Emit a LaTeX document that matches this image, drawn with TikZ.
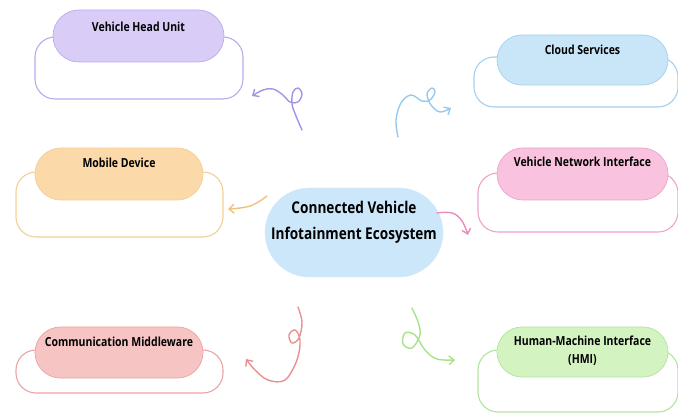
\documentclass[tikz,border=0pt]{standalone}
\usepackage{fontspec}
\setmainfont{Open Sans}[FakeStretch=0.84]
\usetikzlibrary{shapes.misc,arrows.meta}

% palette: fill / border / connector for each branch
\definecolor{purF}{HTML}{D9CDF8}\definecolor{purB}{HTML}{BBAAEE}\definecolor{purA}{HTML}{A594E6}
\definecolor{bluF}{HTML}{C9E5F8}\definecolor{bluB}{HTML}{A3D0EE}\definecolor{bluA}{HTML}{98CAEC}
\definecolor{oraF}{HTML}{FBD9A8}\definecolor{oraB}{HTML}{F3CF96}\definecolor{oraA}{HTML}{F0C27C}
\definecolor{pnkF}{HTML}{F9C3DF}\definecolor{pnkB}{HTML}{EFA3CB}\definecolor{pnkA}{HTML}{EA8DBE}
\definecolor{corF}{HTML}{F7C4C4}\definecolor{corB}{HTML}{EBA3A3}\definecolor{corA}{HTML}{EA8F8F}
\definecolor{grnF}{HTML}{D3F3C1}\definecolor{grnB}{HTML}{B3E49E}\definecolor{grnA}{HTML}{A8E28A}
\definecolor{cenF}{HTML}{CDE7FA}

\tikzset{
  pill/.style={rounded rectangle, draw=#1B, fill=#1F, line width=0.7pt, inner sep=0pt},
  frame/.style={rectangle, rounded corners=20pt, draw=#1B, line width=1.1pt, fill=white, inner sep=0pt},
  lbl/.style={font=\bfseries\fontsize{12.5}{15}\selectfont, text=black, inner sep=0pt, align=center},
  biglbl/.style={font=\bfseries\fontsize{16.2}{28}\selectfont, text=black, inner sep=0pt, align=center},
  curl/.style={draw=#1A, line width=1.4pt, line cap=round, line join=round,
    -{Straight Barb[length=5pt,width=9pt,line width=1.4pt]}},
}

\begin{document}
\begin{tikzpicture}[x=1pt,y=-1pt]
\useasboundingbox (0,0) rectangle (678,414);

% ---------- Vehicle Head Unit ----------
\node[frame=pur, minimum width=208, minimum height=62] (vhuF) at (139,68) {};
\node[pill=pur, minimum width=171, minimum height=52] (vhu) at (138.5,36) {};
\node[lbl] (vhuT) at (138.5,27) {Vehicle Head Unit};

% ---------- Cloud Services ----------
\node[frame=blu, minimum width=204, minimum height=50] (cloF) at (576,82) {};
\node[pill=blu, minimum width=171, minimum height=50] (clo) at (582.5,60) {};
\node[lbl] (cloT) at (582.5,50) {Cloud Services};

% ---------- Mobile Device ----------
\node[frame=ora, minimum width=207, minimum height=65] (mobF) at (119.5,204.5) {};
\node[pill=ora, minimum width=168, minimum height=52] (mob) at (119,174) {};
\node[lbl] (mobT) at (119,163) {Mobile Device};

% ---------- Vehicle Network Interface ----------
\node[frame=pnk, minimum width=200, minimum height=59] (vniF) at (578,202.5) {};
\node[pill=pnk, minimum width=171, minimum height=52] (vni) at (582.5,174) {};
\node[lbl] (vniT) at (582.5,162) {Vehicle Network Interface};

% ---------- Communication Middleware ----------
\node[frame=cor, minimum width=207, minimum height=43] (cmwF) at (119.5,371.5) {};
\node[pill=cor, minimum width=168, minimum height=51] (cmw) at (119,352.5) {};
\node[lbl] (cmwT) at (119,342) {Communication Middleware};

% ---------- Human-Machine Interface ----------
\node[frame=grn, minimum width=200, minimum height=62] (hmiF) at (578,381) {};
\node[pill=grn, minimum width=171, minimum height=50] (hmi) at (582.5,352) {};
\node[lbl] (hmiT1) at (582.5,341) {Human-Machine Interface};
\node[lbl] (hmiT2) at (582.5,360) {(HMI)};

% ---------- central topic ----------
\node[rounded rectangle, fill=cenF, draw=cenF, minimum width=178, minimum height=89, inner sep=0pt] (core) at (354,232.5) {};
\node[biglbl] (coreT1) at (354,207) {Connected Vehicle};
\node[biglbl] (coreT2) at (354,235) {Infotainment Ecosystem};

% ---------- curly connectors ----------
\draw[curl=pur] plot[smooth, tension=0.6] coordinates
  {(302,130) (296,116) (292,104) (293,92) (298,88) (302,94) (298,102) (290,102) (283,95) (273,89) (263,90) (252,96)};
\draw[curl=blu] plot[smooth, tension=0.6] coordinates
  {(398,137) (396,120) (401,103) (411,95) (422,101) (430,100) (435,92) (432,88) (427,94) (431,105) (440,112) (451,108)};
\draw[curl=ora] plot[smooth, tension=0.7] coordinates
  {(267,196) (250,206) (228,209)};
\draw[curl=pnk] plot[smooth, tension=0.7] coordinates
  {(437,213) (452,213) (462,221) (468,235)};
\draw[curl=cor] plot[smooth, tension=0.6] coordinates
  {(298,307) (302,322) (299,338) (292,343) (289,335) (295,330) (300,340) (297,360) (285,380) (268,380) (255,370) (246,359)};
\draw[curl=grn] plot[smooth, tension=0.6] coordinates
  {(412,308) (418,322) (420,335) (412,348) (403,344) (405,333) (415,335) (425,350) (437,359) (455,360)};
\end{tikzpicture}
\end{document}
